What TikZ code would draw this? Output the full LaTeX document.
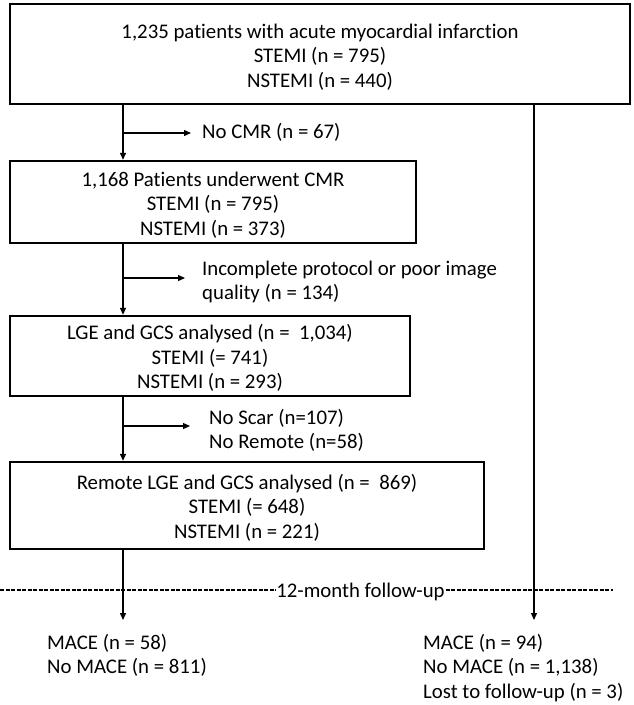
\documentclass[tikz,border=0pt]{standalone}
\usepackage{fontspec}
\setmainfont{Carlito}[Ligatures=NoCommon]
\usetikzlibrary{arrows.meta}
\begin{document}
\begin{tikzpicture}[x=1pt,y=-1pt,
  fnt/.style={font=\fontsize{20.8}{24.6}\selectfont},
  box/.style={draw, line width=2.4pt, inner sep=0pt},
  boxtxt/.style={align=center, inner sep=0pt, fnt},
  txt/.style={align=left, inner sep=0pt, anchor=west, fnt},
  arr/.style={line width=1.3pt, -{Triangle[length=7pt,width=6pt]}},
  side/.style={arr, shorten >=11pt},
  fudash/.style={line width=1.2pt, dash pattern=on 4pt off 1.5pt}
]
\useasboundingbox (0,0) rectangle (634,705);

% boxes
\node[box, minimum width=620pt, minimum height=100pt] (b1) at (320,54) {};
\node[boxtxt] (b1t) at ([yshift=-3pt]b1.center)
  {1,235 patients with acute myocardial infarction\\STEMI (n = 795)\\NSTEMI (n = 440)};
\node[box, minimum width=406pt, minimum height=82pt] (b2) at (213,202) {};
\node[boxtxt] (b2t) at ([yshift=-3pt]b2.center)
  {1,168 Patients underwent CMR\\STEMI (n = 795)\\NSTEMI (n = 373)};
\node[box, minimum width=400pt, minimum height=80pt] (b3) at (210,356) {};
\node[boxtxt] (b3t) at ([yshift=-2pt]b3.center)
  {LGE and GCS analysed (n = \ 1,034)\\STEMI (= 741)\\NSTEMI (n = 293)};
\node[box, minimum width=474pt, minimum height=87pt] (b4) at (247,505.5) {};
\node[boxtxt] (b4t) at ([yshift=-2pt]b4.center)
  {Remote LGE and GCS analysed (n = \ 869)\\STEMI (= 648)\\NSTEMI (n = 221)};

% side texts
\node[txt] (t1) at (202,132) {No CMR (n = 67)};
\node[txt] (t2) at (202,282) {Incomplete protocol or poor image\\quality (n = 134)};
\node[txt] (t3) at (209,430.5) {No Scar (n=107)\\No Remote (n=58)};

% outcome texts
\node[txt] (m1) at (47,655.5) {MACE (n = 58)\\No MACE (n = 811)};
\node[txt] (m2) at (423,668) {MACE (n = 94)\\No MACE (n = 1,138)\\Lost to follow-up (n = 3)};

% follow-up line
\coordinate (d0) at (0,590);
\coordinate (d1) at (613,590);
\draw[fudash] (d0) -- (d1);
\node[fill=white, inner sep=0.8pt, anchor=base, fnt] (fu) at (360.5,597) {12-month follow-up};

% connectors
\coordinate (c1) at (123,133);
\coordinate (c2) at (123,278);
\coordinate (c3) at (123,426);
\coordinate (l1) at (123,620);
\coordinate (r1) at (534,620);

\draw[arr] (b1.south -| c1) -- (b2.north -| c1);
\draw[side] (c1) -- (t1.west |- c1);
\draw[arr] (b2.south -| c2) -- (b3.north -| c2);
\draw[arr, shorten >=17pt] (c2) -- (t2.west |- c2);
\draw[arr] (b3.south -| c3) -- (b4.north -| c3);
\draw[arr, shorten >=19pt] (c3) -- (t3.west |- c3);
\draw[arr] (b4.south -| l1) -- (l1);
\draw[arr] (b1.south -| r1) -- (r1);
\end{tikzpicture}
\end{document}
